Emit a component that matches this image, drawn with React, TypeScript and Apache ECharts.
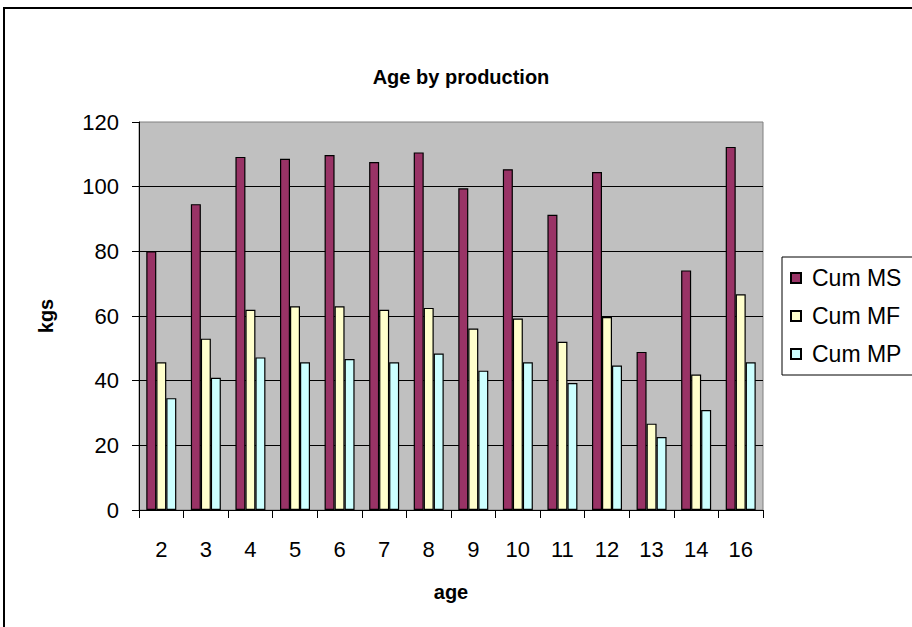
import React, { useEffect, useRef } from "react";
import * as echarts from "echarts";

const categories = ["2", "3", "4", "5", "6", "7", "8", "9", "10", "11", "12", "13", "14", "16"];
const cumMS = [80, 94.6, 109.2, 108.6, 109.8, 107.6, 110.6, 99.5, 105.4, 91.3, 104.5, 48.9, 74.1, 112.3];
const cumMF = [45.7, 53.0, 61.9, 63.0, 63.0, 61.9, 62.5, 56.1, 59.2, 52.0, 59.7, 26.7, 41.9, 66.7];
const cumMP = [34.6, 40.9, 47.2, 45.7, 46.7, 45.7, 48.4, 43.1, 45.7, 39.3, 44.7, 22.6, 30.9, 45.7];
const yTicks = { min: 0, max: 120, interval: 20 };

const FONT = "'Liberation Sans', Arial, sans-serif";

export default function App() {
  const ref = useRef<HTMLDivElement>(null);
  useEffect(() => {
    if (!ref.current) return;
    const chart = echarts.init(ref.current, null, { renderer: "svg" });
    const barStyle = (color: string) => ({ color, borderColor: "#000", borderWidth: 1.2 });
    chart.setOption({
      animation: false,
      backgroundColor: "#fff",
      textStyle: { fontFamily: FONT },
      title: {
        text: "Age by production",
        left: 456,
        textAlign: "center",
        top: 62,
        textStyle: { fontFamily: FONT, fontWeight: "bold", fontSize: 20, color: "#000" },
      },
      graphic: [
        {
          type: "rect",
          shape: { x: 4, y: 8, width: 1000, height: 1000 },
          style: { fill: "none", stroke: "#000", lineWidth: 2 },
          silent: true,
          z: 100,
        },
      ],
      legend: {
        orient: "vertical",
        left: 782,
        top: 257,
        icon: "rect",
        itemWidth: 10,
        itemHeight: 10,
        itemGap: 14,
        padding: [9, 20, 9, 8],
        borderColor: "#000",
        borderWidth: 1,
        textStyle: { fontFamily: FONT, fontSize: 23, color: "#000", lineHeight: 24, padding: [0, 0, 0, 6] },
        data: ["Cum MS", "Cum MF", "Cum MP"],
      },
      grid: {
        left: 139,
        right: 149,
        top: 122,
        bottom: 117,
        show: true,
        backgroundColor: "#C0C0C0",
        borderColor: "#808080",
        borderWidth: 1,
      },
      xAxis: {
        type: "category",
        data: categories,
        name: "age",
        nameLocation: "middle",
        nameGap: 72,
        nameTextStyle: { fontFamily: FONT, fontWeight: "bold", fontSize: 20, color: "#000" },
        axisLine: { lineStyle: { color: "#000", width: 1 } },
        axisTick: { show: true, length: 8, lineStyle: { color: "#000" } },
        axisLabel: { fontFamily: FONT, fontSize: 22, color: "#000", margin: 28 },
      },
      yAxis: {
        type: "value",
        min: yTicks.min,
        max: yTicks.max,
        interval: yTicks.interval,
        name: "kgs",
        nameLocation: "middle",
        nameGap: 83,
        nameRotate: 90,
        nameTextStyle: { fontFamily: FONT, fontWeight: "bold", fontSize: 20, color: "#000" },
        axisLine: { show: true, lineStyle: { color: "#000", width: 1 } },
        axisTick: { show: true, length: 7, lineStyle: { color: "#000" } },
        axisLabel: { fontFamily: FONT, fontSize: 22, color: "#000", margin: 20 },
        splitLine: { show: true, showMaxLine: false, lineStyle: { color: "#000", width: 1 } },
      },
      series: [
        { name: "Cum MS", type: "bar", data: cumMS, itemStyle: barStyle("#993366"), barWidth: 10, barGap: "0%" },
        { name: "Cum MF", type: "bar", data: cumMF, itemStyle: barStyle("#FFFFCC"), barWidth: 10, barGap: "0%" },
        { name: "Cum MP", type: "bar", data: cumMP, itemStyle: barStyle("#CCFFFF"), barWidth: 10, barGap: "0%" },
      ],
    });
    return () => chart.dispose();
  }, []);
  return (
    <div
      ref={ref}
      style={{ position: "absolute", left: 0, top: 0, width: 912, height: 627 }}
    />
  );
}
